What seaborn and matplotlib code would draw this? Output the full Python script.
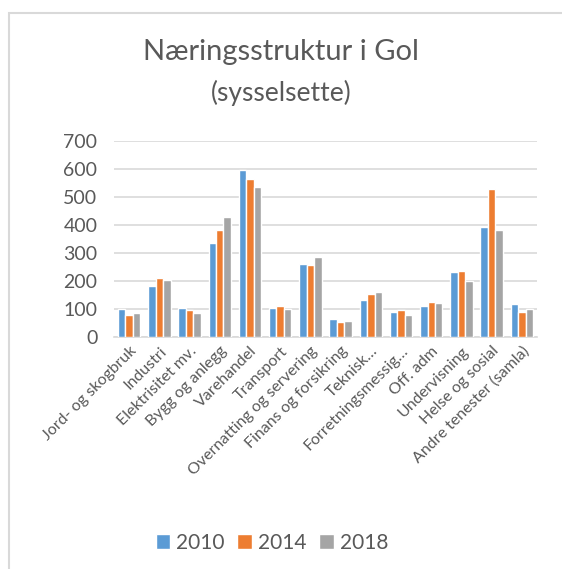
import matplotlib
matplotlib.use("Agg")
import matplotlib.pyplot as plt
import pandas as pd
import seaborn as sns
from matplotlib.patches import Rectangle

# Sysselsette per næring, Gol
naeringar = [
    "Jord- og skogbruk", "Industri", "Elektrisitet mv.", "Bygg og anlegg",
    "Varehandel", "Transport", "Overnatting og servering", "Finans og forsikring",
    "Teknisk…", "Forretningsmessig…", "Off. adm", "Undervisning",
    "Helse og sosial", "Andre tenester (samla)",
]
v2010 = [100, 183, 105, 337, 596, 104, 262, 63, 133, 88, 112, 231, 393, 118]
v2014 = [77, 210, 97, 382, 564, 111, 258, 53, 155, 97, 125, 236, 529, 88]
v2018 = [85, 204, 86, 429, 537, 100, 287, 58, 162, 78, 121, 199, 383, 100]
aar = ["2010", "2014", "2018"]
fargar = ["#5B9BD5", "#ED7D31", "#A5A5A5"]

df = pd.DataFrame({"Næring": naeringar, "2010": v2010, "2014": v2014, "2018": v2018})
df = df.melt(id_vars="Næring", var_name="År", value_name="Sysselsette")

sns.set_style("white")
plt.rcParams["font.family"] = ["Lato", "DejaVu Sans"]
tekst = "#595959"

fig = plt.figure(figsize=(5.62, 5.69), dpi=100)
ax = fig.add_axes([114 / 562, 1 - 337 / 569, (537 - 114) / 562, (337 - 141) / 569])

sns.barplot(data=df, x="Næring", y="Sysselsette", hue="År", hue_order=aar,
            palette=fargar, width=0.74, ax=ax, saturation=1, zorder=3)

ax.set_ylim(0, 700)
ax.set_yticks(range(0, 701, 100))
ax.yaxis.grid(True, color="#D9D9D9", linewidth=1.2, zorder=0)
ax.set_axisbelow(True)
for s in ["top", "right", "left"]:
    ax.spines[s].set_visible(False)
ax.spines["bottom"].set_color("#D9D9D9")
ax.spines["bottom"].set_linewidth(1.2)
ax.set_xlabel("")
ax.set_ylabel("")
ax.tick_params(axis="y", labelsize=14, colors=tekst, length=0, pad=12)
ax.tick_params(axis="x", labelsize=11.5, colors=tekst, length=0, pad=5)
plt.setp(ax.get_xticklabels(), rotation=45, ha="right", rotation_mode="anchor")

fig.text(0.5, 1 - 52 / 569, "Næringsstruktur i Gol", ha="center", va="center",
         fontsize=21, color=tekst)
fig.text(0.5, 1 - 93 / 569, "(sysselsette)", ha="center", va="center",
         fontsize=19, color=tekst)

ax.legend(loc="center", bbox_to_anchor=(272 / 562, 1 - 543 / 569),
          bbox_transform=fig.transFigure, ncol=3, frameon=False,
          fontsize=15, labelcolor=tekst, handlelength=0.7, handleheight=0.7,
          handletextpad=0.3, columnspacing=0.6)

fig.patches.append(Rectangle((9 / 562, -0.1), 1.2, 1 - 13 / 569 + 0.1,
                             transform=fig.transFigure, fill=False,
                             edgecolor="#D9D9D9", linewidth=1.5))

fig.savefig("out.png", dpi=100)
